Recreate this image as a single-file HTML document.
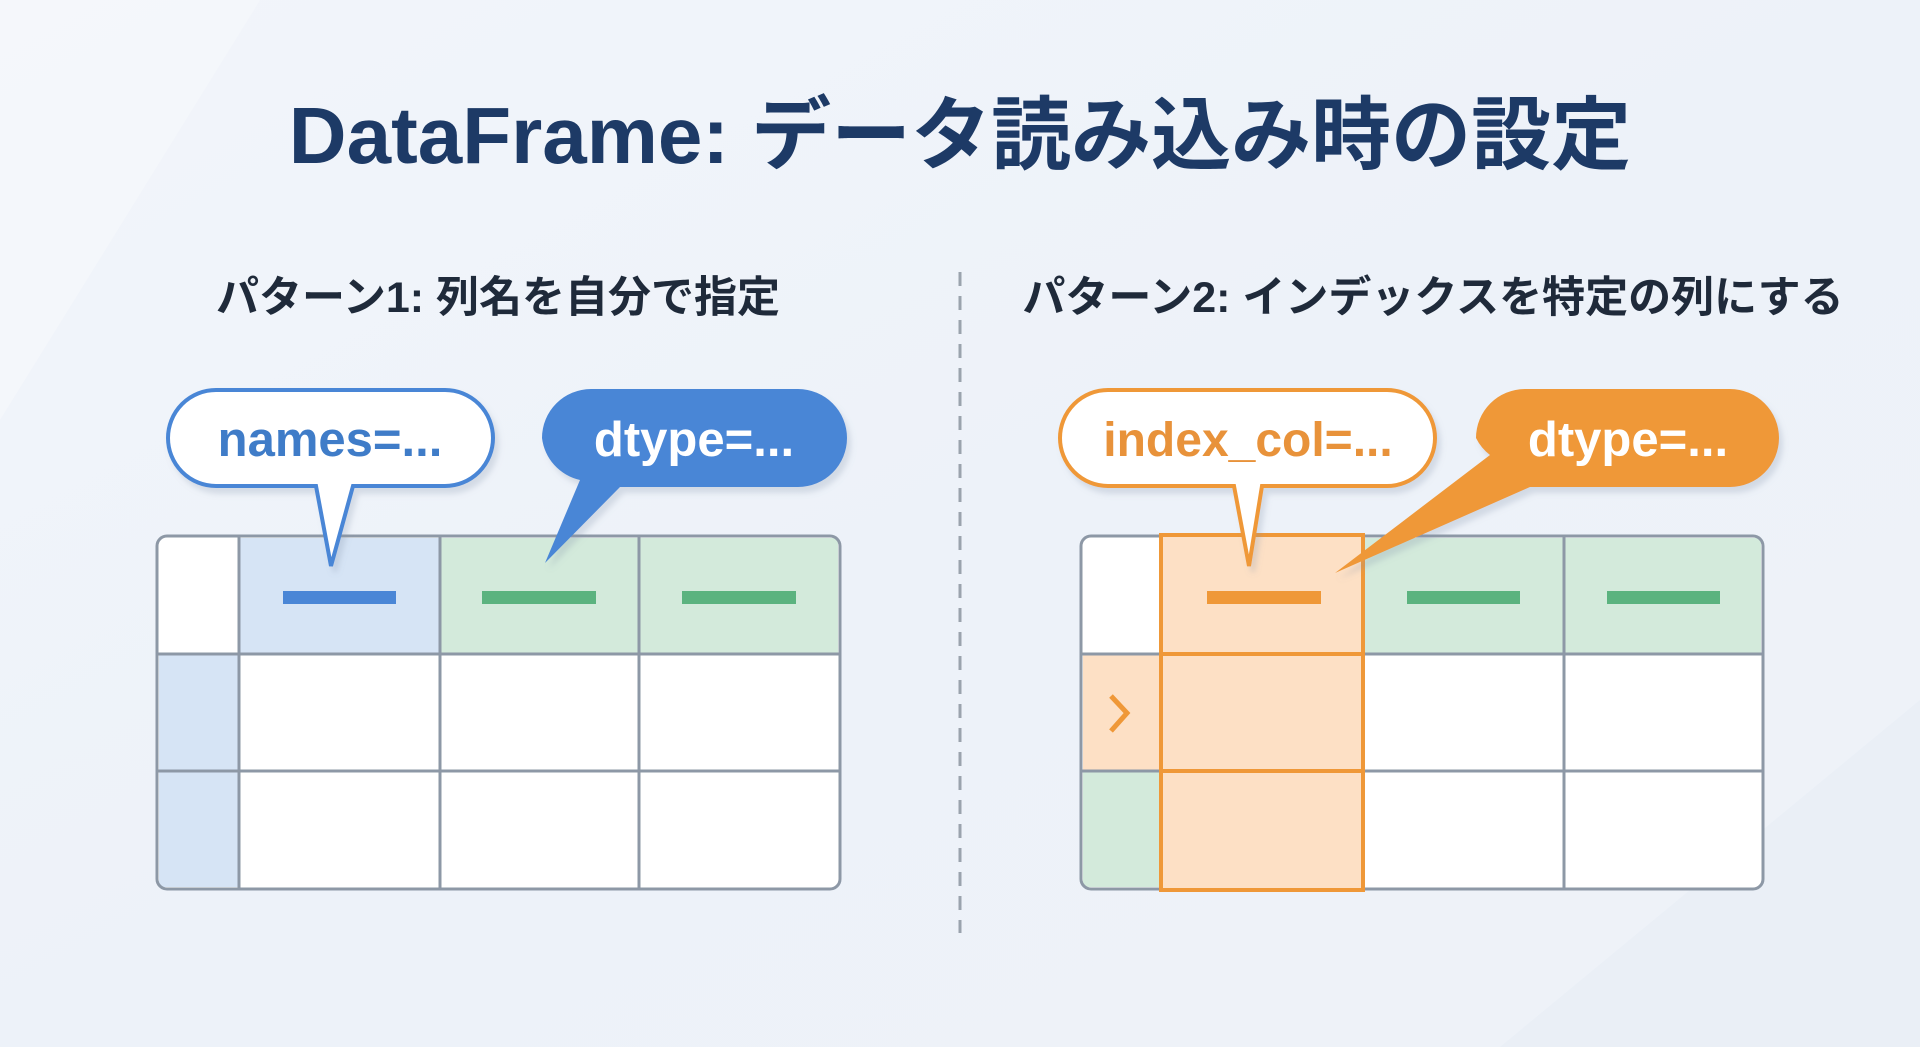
<!DOCTYPE html>
<html><head><meta charset="utf-8"><style>
html,body{margin:0;padding:0;width:1920px;height:1047px;overflow:hidden;background:#eef2f8;}
svg{display:block}
text{font-family:"Liberation Sans","Noto Sans CJK JP",sans-serif;font-weight:bold}
</style></head><body>
<svg width="1920" height="1047" viewBox="0 0 1920 1047" xmlns="http://www.w3.org/2000/svg">
<defs>
<linearGradient id="bg" x1="0" y1="0" x2="1" y2="1">
<stop offset="0" stop-color="#f2f5fa"/><stop offset="0.5" stop-color="#edf2f9"/><stop offset="1" stop-color="#eef2f8"/>
</linearGradient>
<filter id="sh" x="-10%" y="-10%" width="130%" height="140%"><feDropShadow dx="4" dy="6" stdDeviation="3" flood-color="#8090a8" flood-opacity="0.25"/></filter>
</defs>
<rect width="1920" height="1047" fill="url(#bg)"/>
<polygon points="0,0 260,0 0,420" fill="#f6f8fc" opacity="0.6"/>
<polygon points="1920,700 1920,1047 1500,1047" fill="#e8edf5" opacity="0.6"/>

<text x="960" y="163" text-anchor="middle" font-size="80" fill="#1d3a66">DataFrame: データ読み込み時の設定</text>
<text x="498" y="312" text-anchor="middle" font-size="43" fill="#1f2a3a">パターン1: 列名を自分で指定</text>
<text x="1433" y="312" text-anchor="middle" font-size="43" fill="#1f2a3a">パターン2: インデックスを特定の列にする</text>
<line x1="960" y1="272" x2="960" y2="933" stroke="#9aa3ad" stroke-width="3" stroke-dasharray="14,10"/>

<!-- LEFT TABLE -->
<g>
<rect x="157" y="536" width="683" height="353" rx="10" fill="#fff"/>
<rect x="239" y="538" width="201" height="116" fill="#d6e4f5"/>
<rect x="440" y="538" width="398" height="116" fill="#d3eadb"/>
<rect x="159" y="654" width="80" height="233" fill="#d6e4f5"/>
<rect x="157" y="536" width="683" height="353" rx="10" fill="none" stroke="#8d98a6" stroke-width="3"/>
<g stroke="#8d98a6" stroke-width="3">
<line x1="239" y1="536" x2="239" y2="889"/><line x1="440" y1="536" x2="440" y2="889"/><line x1="639" y1="536" x2="639" y2="889"/>
<line x1="157" y1="654" x2="840" y2="654"/><line x1="157" y1="771" x2="840" y2="771"/>
</g>
<rect x="283" y="591" width="113" height="13" fill="#4a86d6"/>
<rect x="482" y="591" width="114" height="13" fill="#5bb37f"/>
<rect x="682" y="591" width="114" height="13" fill="#5bb37f"/>
</g>
<!-- names bubble -->
<g filter="url(#sh)">
<path d="M216,390 H445 A48,48 0 0 1 493,438 A48,48 0 0 1 445,486 H353 L331,566 L316,486 H216 A48,48 0 0 1 168,438 A48,48 0 0 1 216,390 Z" fill="#fff" stroke="#4a86d6" stroke-width="4"/>
</g>
<text x="330" y="456" text-anchor="middle" font-size="49" fill="#3f7cc8">names=...</text>
<!-- dtype blue -->
<g filter="url(#sh)">
<path d="M591,389 H798 A49,49 0 0 1 847,438 A49,49 0 0 1 798,487 H620 L545,563 L580,480 A49,49 0 0 1 542,438 A49,49 0 0 1 591,389 Z" fill="#4a86d6"/>
</g>
<text x="694" y="456" text-anchor="middle" font-size="49" fill="#fff">dtype=...</text>

<!-- RIGHT TABLE -->
<g>
<rect x="1081" y="536" width="682" height="353" rx="10" fill="#fff"/>
<rect x="1363" y="538" width="398" height="116" fill="#d3eadb"/>
<rect x="1083" y="654" width="78" height="117" fill="#fde0c5"/>
<rect x="1083" y="771" width="78" height="116" fill="#d3eadb"/>
<rect x="1081" y="536" width="682" height="353" rx="10" fill="none" stroke="#8d98a6" stroke-width="3"/>
<g stroke="#8d98a6" stroke-width="3">
<line x1="1161" y1="536" x2="1161" y2="889"/><line x1="1564" y1="536" x2="1564" y2="889"/>
<line x1="1081" y1="654" x2="1763" y2="654"/><line x1="1081" y1="771" x2="1763" y2="771"/>
</g>
<rect x="1161" y="535" width="202" height="355" fill="#fde0c5" stroke="#ef9838" stroke-width="4"/>
<g stroke="#ef9838" stroke-width="4"><line x1="1161" y1="654" x2="1363" y2="654"/><line x1="1161" y1="771" x2="1363" y2="771"/></g>
<rect x="1207" y="591" width="114" height="13" fill="#ef9838"/>
<rect x="1407" y="591" width="113" height="13" fill="#5bb37f"/>
<rect x="1607" y="591" width="113" height="13" fill="#5bb37f"/>
<polyline points="1111,696 1127,713 1111,731" fill="none" stroke="#ef9838" stroke-width="5"/>
</g>
<!-- index_col bubble -->
<g filter="url(#sh)">
<path d="M1108,390 H1387 A48,48 0 0 1 1435,438 A48,48 0 0 1 1387,486 H1262 L1249,566 L1234,486 H1108 A48,48 0 0 1 1060,438 A48,48 0 0 1 1108,390 Z" fill="#fff" stroke="#ef9838" stroke-width="4"/>
</g>
<text x="1248" y="456" text-anchor="middle" font-size="48" fill="#e8923a">index_col=...</text>
<!-- dtype orange -->
<g filter="url(#sh)">
<path d="M1525,389 H1730 A49,49 0 0 1 1779,438 A49,49 0 0 1 1730,487 H1530 L1335,573 L1490,455 A49,49 0 0 1 1476,438 A49,49 0 0 1 1525,389 Z" fill="#ef9838"/>
</g>
<text x="1628" y="456" text-anchor="middle" font-size="49" fill="#fff">dtype=...</text>
</svg>
</body></html>
